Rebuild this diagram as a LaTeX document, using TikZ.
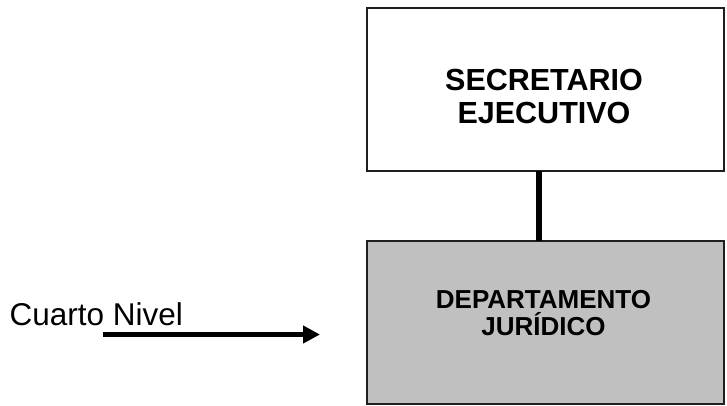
\documentclass[tikz,border=0pt]{standalone}
\usepackage{fontspec}
\setmainfont{Liberation Sans}
\usetikzlibrary{arrows.meta}
\definecolor{boxgray}{RGB}{192,192,192}
\definecolor{edgegray}{RGB}{30,30,30}
\begin{document}
\begin{tikzpicture}[x=1pt,y=-1pt,
  unitbox/.style={draw=edgegray, line width=1.6pt, inner sep=0pt, outer sep=0pt,
    minimum width=357pt, minimum height=163pt},
  titletext/.style={align=center, inner sep=0pt, anchor=base,
    font=\bfseries\fontsize{30.5}{33}\selectfont},
  subtext/.style={align=center, inner sep=0pt, anchor=base,
    font=\bfseries\fontsize{26}{27}\selectfont},
  linker/.style={line width=6pt},
  levelarrow/.style={line width=5pt, -{Triangle[length=17pt,width=17pt]}}]
\useasboundingbox (0,0) rectangle (727,405);

% organisational units
\node[unitbox, fill=white] (sec) at (545.5,89.4) {};
\node[unitbox, fill=boxgray] (dep) at (545.5,322.5) {};
\node[titletext] (sectext) at (544,123) {SECRETARIO\\EJECUTIVO};
\node[subtext] (deptext) at (543.5,335) {DEPARTAMENTO\\JURÍDICO};

% reporting line
\draw[linker] ([xshift=-6.8pt]sec.south) -- ([xshift=-6.8pt]dep.north);

% level marker
\node[anchor=base west, inner sep=0pt, font=\fontsize{31.5}{34}\selectfont] (lvl) at (9.5,325.5) {Cuarto Nivel};
\coordinate (arrstart) at (103.3,334.5);
\coordinate (arrend) at (320,334.5);
\draw[levelarrow] (arrstart) -- (arrend);
\end{tikzpicture}
\end{document}
